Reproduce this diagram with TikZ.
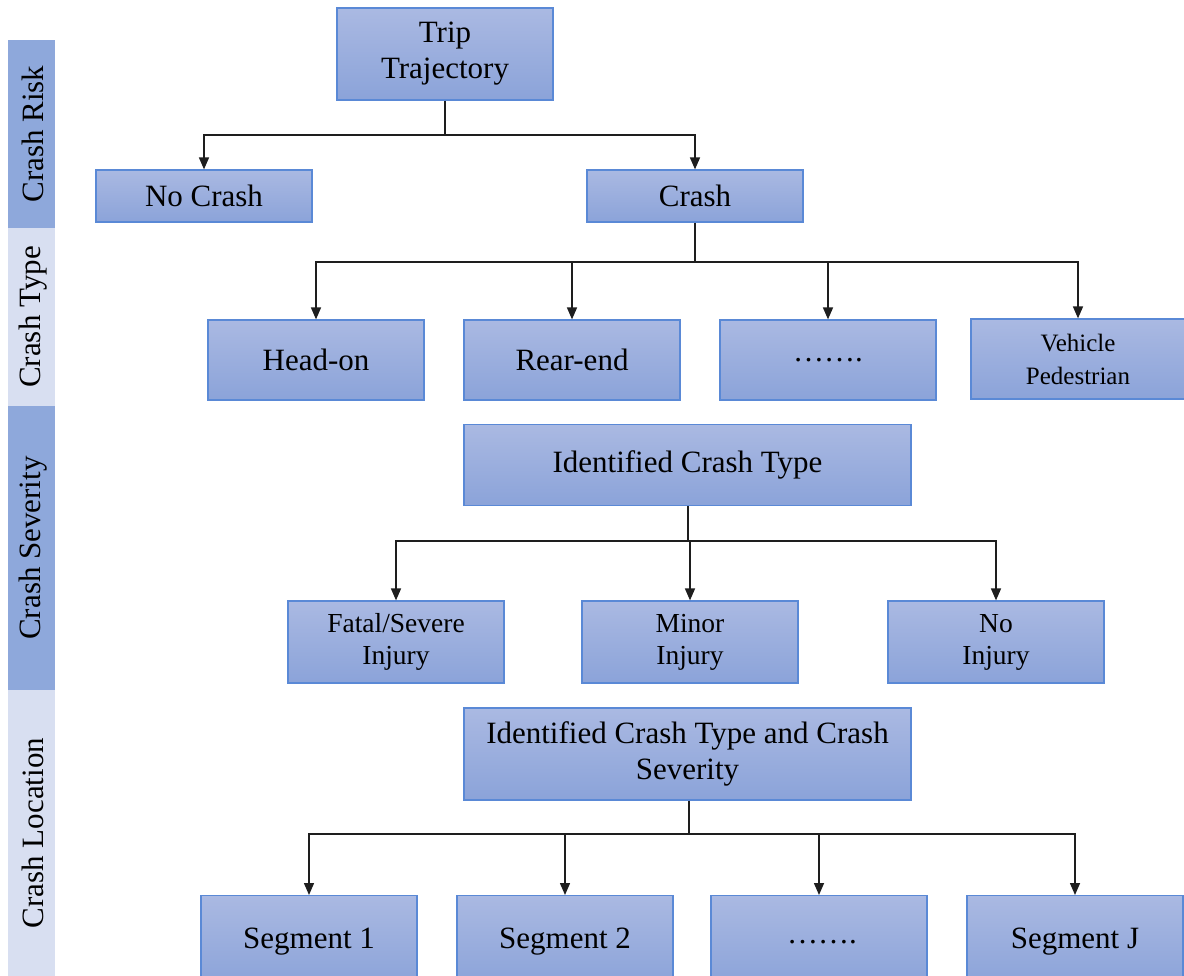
\documentclass[tikz,border=0pt]{standalone}
\usepackage{fontspec}
\setmainfont{Liberation Serif}
\usetikzlibrary{arrows.meta}
\definecolor{boxtop}{RGB}{170,185,226}
\definecolor{boxbot}{RGB}{139,163,217}
\definecolor{boxedge}{RGB}{90,137,214}
\definecolor{bardark}{RGB}{142,168,219}
\definecolor{barlight}{RGB}{216,223,241}
\definecolor{linec}{RGB}{30,30,30}
\tikzset{
  box/.style={draw=boxedge, line width=1.2pt, top color=boxtop, bottom color=boxbot,
    align=center, inner sep=0pt, font=\fontsize{31}{36}\selectfont},
  midbox/.style={box, font=\fontsize{27.5}{32}\selectfont},
  smallbox/.style={box, font=\fontsize{25}{33}\selectfont},
  barlabel/.style={rotate=90, font=\fontsize{31}{36}\selectfont, inner sep=0pt},
  conn/.style={draw=linec, line width=1.5pt},
  arr/.style={conn, -{Triangle[length=12pt,width=10pt]}},
}
\begin{document}
\begin{tikzpicture}[x=1pt,y=-1pt]
\useasboundingbox (0,0) rectangle (1184,976);
\clip (0,0) rectangle (1184,976);
\fill[white] (0,0) rectangle (1184,976);
% side bars
\fill[bardark] (8,40) rectangle (55,228);
\fill[barlight] (8,228) rectangle (55,406);
\fill[bardark] (8,406) rectangle (55,690);
\fill[barlight] (8,690) rectangle (55,976);
\node[barlabel] (lrisk) at (33,134) {Crash Risk};
\node[barlabel] (ltype) at (33,317) {Crash Type};
\node[barlabel] (lsev) at (33,548) {Crash Severity};
\node[barlabel] (lloc) at (33,833) {Crash Location};
% level 1
\node[box, minimum width=216, minimum height=92] (trip) at (445,54) {\raisebox{-4pt}{Trip}\\\raisebox{-4pt}{Trajectory}};
\node[box, minimum width=216, minimum height=52] (nocrash) at (204,196) {\raisebox{-2pt}{No Crash}};
\node[box, minimum width=216, minimum height=52] (crash) at (695,196) {\raisebox{-2pt}{Crash}};
% level 2
\node[box, minimum width=216, minimum height=80] (headon) at (316,360) {\raisebox{-2pt}{Head-on}};
\node[box, minimum width=216, minimum height=80] (rearend) at (572,360) {\raisebox{-2pt}{Rear-end}};
\node[box, minimum width=216, minimum height=80] (dots1) at (828,360) {\raisebox{-2pt}{…….}};
\node[smallbox, minimum width=214, minimum height=80] (vehped) at (1078,359) {Vehicle\\Pedestrian};
% level 3
\node[box, minimum width=447, minimum height=81] (ict) at (687.5,465) {\raisebox{-3pt}{Identified Crash Type}};
\node[midbox, minimum width=216, minimum height=82] (fatal) at (396,642) {\raisebox{-3pt}{Fatal/Severe}\\\raisebox{-3pt}{Injury}};
\node[midbox, minimum width=216, minimum height=82] (minor) at (690,642) {\raisebox{-3pt}{Minor}\\\raisebox{-3pt}{Injury}};
\node[midbox, minimum width=216, minimum height=82] (noinj) at (996,642) {\raisebox{-3pt}{No}\\\raisebox{-3pt}{Injury}};
% level 4
\node[box, minimum width=447, minimum height=92] (icts) at (687.5,754) {\raisebox{-3pt}{Identified Crash Type and Crash}\\\raisebox{-3pt}{Severity}};
\node[box, minimum width=216, minimum height=90, anchor=north] (seg1) at (309,895) {};
\node[box, minimum width=216, minimum height=90, anchor=north] (seg2) at (565,895) {};
\node[box, minimum width=216, minimum height=90, anchor=north] (dots2) at (819,895) {};
\node[box, minimum width=216, minimum height=90, anchor=north] (segj) at (1075,895) {};
\node[font=\fontsize{31}{36}\selectfont, inner sep=0pt] (t1) at (309,942) {Segment 1};
\node[font=\fontsize{31}{36}\selectfont, inner sep=0pt] (t2) at (565,942) {Segment 2};
\node[font=\fontsize{31}{36}\selectfont, inner sep=0pt] (t3) at (822,942) {…….};
\node[font=\fontsize{31}{36}\selectfont, inner sep=0pt] (t4) at (1075,942) {Segment J};
% connectors
\coordinate (b1) at (445,135);
\draw[conn] (trip.south) -- (b1);
\draw[arr] (b1) -| (nocrash.north);
\draw[arr] (b1) -| (crash.north);
\coordinate (b2) at (695,262);
\draw[conn] (crash.south) -- (b2);
\draw[arr] (b2) -| (headon.north);
\draw[arr] (b2) -| (rearend.north);
\draw[arr] (b2) -| (dots1.north);
\draw[arr] (b2) -| (vehped.north);
\coordinate (b3) at (688,541);
\draw[conn] (ict.south -| b3) -- (b3);
\draw[arr] (b3) -| (fatal.north);
\draw[arr] (b3) -| (minor.north);
\draw[arr] (b3) -| (noinj.north);
\coordinate (b4) at (689,834);
\draw[conn] (icts.south -| b4) -- (b4);
\draw[arr] (b4) -| (seg1.north);
\draw[arr] (b4) -| (seg2.north);
\draw[arr] (b4) -| (dots2.north);
\draw[arr] (b4) -| (segj.north);
\end{tikzpicture}
\end{document}
